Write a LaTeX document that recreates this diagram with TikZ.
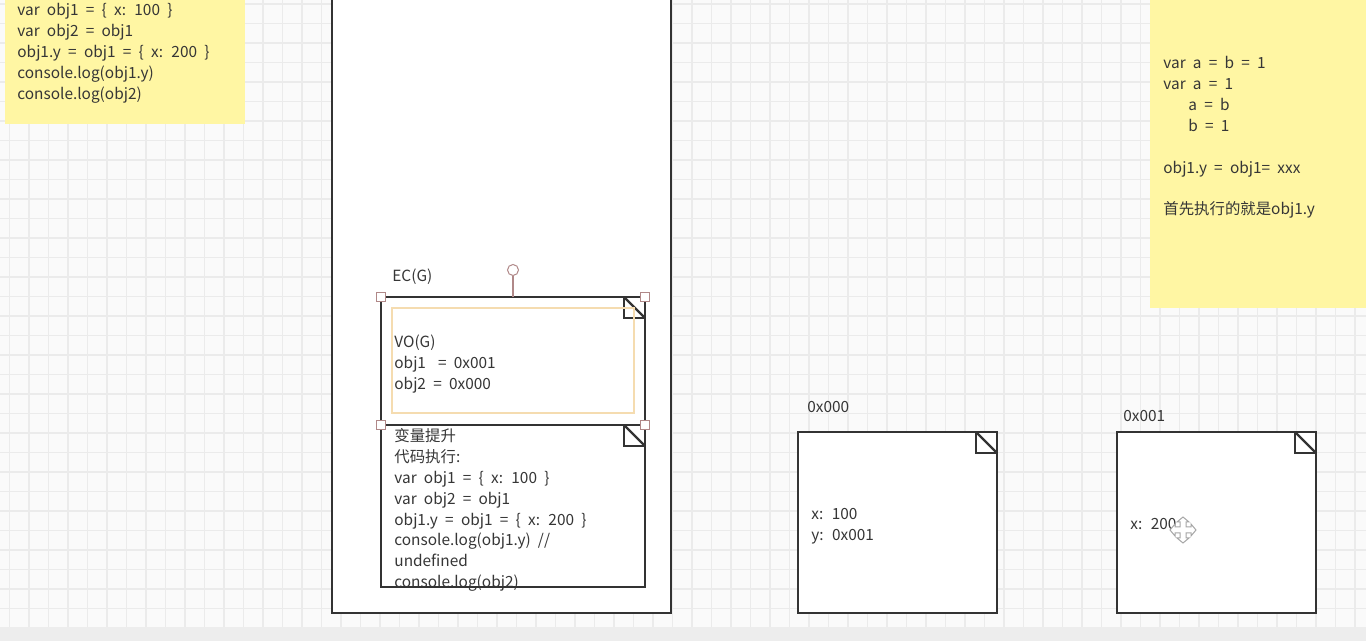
\documentclass[tikz,border=0pt]{standalone}
\usepackage{fontspec}
\setmainfont[WordSpace=2.1]{Noto Sans CJK SC}
\usetikzlibrary{positioning,calc}
\usepackage{xcolor}
\definecolor{notey}{HTML}{FFF6A3}
\definecolor{gridc}{HTML}{EBEBEB}
\definecolor{ink}{HTML}{333333}
\definecolor{txt}{HTML}{363636}
\definecolor{vobox}{HTML}{F5DCB0}
\definecolor{handle}{HTML}{B08888}
\definecolor{barc}{HTML}{EDEDED}

\tikzset{
  code/.style={anchor=north west, inner sep=0pt, align=left, text=txt,
    font=\fontsize{7.7}{10.45}\selectfont},
  frame/.style={draw=ink, line width=1.1pt, fill=white},
  grip/.style={draw=handle, fill=white, line width=0.5pt},
}
% folded corner of a note, top right corner at (#1,#2)
\newcommand{\fold}[2]{%
  \draw[ink, line width=1.1pt] (#1-21,#2) rectangle (#1,#2+21);
  \draw[ink, line width=1.1pt] (#1-21,#2) -- (#1,#2+21);}

\begin{document}
\begin{tikzpicture}[x=0.5pt,y=-0.5pt]
  \useasboundingbox (0,0) rectangle (1366,641);
  \fill[white!98!black] (0,0) rectangle (1366,641);
  % grid
  \foreach \gx in {0,...,70}
    \draw[gridc, line width=0.6pt] (9.5+19.5*\gx,0) -- (9.5+19.5*\gx,627);
  \foreach \gy in {0,...,32}
    \draw[gridc, line width=0.6pt] (0,4+19.5*\gy) -- (1366,4+19.5*\gy);
  \fill[barc] (0,627) rectangle (1366,641);

  % sticky notes
  \fill[notey] (5,-2) rectangle (245,124);
  \node[code] (src) at (17,3) {var obj1 = \{ x: 100 \}\\var obj2 = obj1\\
    obj1.y = obj1 = \{ x: 200 \}\\console.log(obj1.y)\\console.log(obj2)};
  \fill[notey] (1150,-2) rectangle (1368,308);
  \node[code] (memo) at (1163,56) {var a = b = 1\\var a = 1\\
    \hspace*{12.5pt}a = b\\\hspace*{12.5pt}b = 1\\[10.45pt]
    obj1.y = obj1= xxx\\[10.45pt]首先执行的就是obj1.y};

  % call stack
  \draw[frame] (332,-5) rectangle (671,613);
  \node[code] (ecg) at (392,269) {EC(G)};
  \draw[frame] (381,297) rectangle (645,425);
  \fold{645}{297}
  \draw[vobox, line width=0.8pt] (392,308) rectangle (634,413);
  \node[code] (vog) at (394,335) {VO(G)\\obj1\kern6pt= 0x001\\obj2 = 0x000};
  \draw[frame] (381,425) rectangle (645,587);
  \fold{645}{425}
  \node[code] (run) at (394,428) {变量提升\\代码执行:\\var obj1 = \{ x: 100 \}\\
    var obj2 = obj1\\obj1.y = obj1 = \{ x: 200 \}\\console.log(obj1.y) //\\
    undefined\\console.log(obj2)};

  % selection handles
  \draw[handle, line width=0.6pt] (513,276) -- (513,297);
  \draw[grip] (513,270) circle (5.5);
  \foreach \hx/\hy in {381/297,645/297,381/425,645/425}
    \draw[grip] (\hx-4.5,\hy-4.5) rectangle (\hx+4.5,\hy+4.5);

  % heap
  \node[code] (lbla) at (807,401) {0x000};
  \draw[frame] (798,432) rectangle (997,613);
  \fold{997}{432}
  \node[code] (obja) at (811,508) {x: 100\\y: 0x001};
  \node[code] (lblb) at (1123,410) {0x001};
  \draw[frame] (1117,432) rectangle (1316,613);
  \fold{1316}{432}
  \node[code] (objb) at (1130,518) {x: 200};

  % move cursor
  \begin{scope}[shift={(1183,530)}]
    \draw[gray!70, fill=white, line width=0.5pt] (-3,-3) -- (-3,-8) -- (-6,-8) -- (0,-13) -- (6,-8) -- (3,-8)
      -- (3,-3) -- (8,-3) -- (8,-6) -- (13,0) -- (8,6) -- (8,3) -- (3,3) -- (3,8) -- (6,8)
      -- (0,13) -- (-6,8) -- (-3,8) -- (-3,3) -- (-8,3) -- (-8,6) -- (-13,0) -- (-8,-6) -- (-8,-3) -- cycle;
  \end{scope}
\end{tikzpicture}
\end{document}
